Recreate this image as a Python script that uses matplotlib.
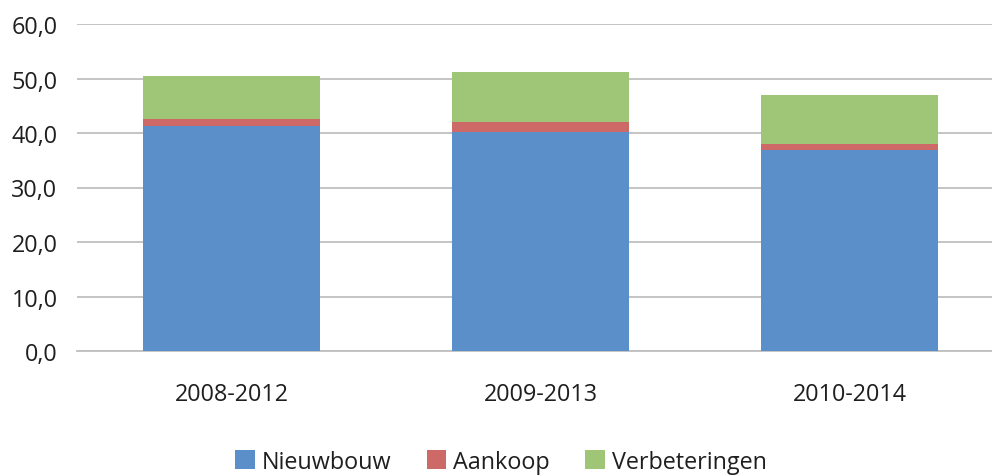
import matplotlib.pyplot as plt
import numpy as np

# data
periods = ['2008-2012', '2009-2013', '2010-2014']
nieuwbouw = [41.3, 40.2, 36.8]
aankoop = [1.3, 1.8, 1.2]
verbeteringen = [7.9, 9.2, 9.0]
yticks = [0, 10, 20, 30, 40, 50, 60]

colors = {'Nieuwbouw': '#5B8FCA', 'Aankoop': '#CD6966', 'Verbeteringen': '#9FC677'}
txt = '#1F1F1F'
grid = '#BFBFBF'

plt.rcParams['font.family'] = ['Open Sans', 'DejaVu Sans']

fig = plt.figure(figsize=(9.92, 4.77), dpi=100)
ax = fig.add_axes([77 / 992, 125 / 477, 927 / 992, 327 / 477])

x = np.arange(len(periods))
w = 0.573
bottom = np.zeros(len(periods))
for name, vals in [('Nieuwbouw', nieuwbouw), ('Aankoop', aankoop),
                   ('Verbeteringen', verbeteringen)]:
    ax.bar(x, vals, w, bottom=bottom, color=colors[name], label=name, zorder=3)
    bottom += np.array(vals)

ax.set_xlim(-0.5, len(periods) - 0.5)
ax.set_ylim(0, 60)
ax.set_yticks(yticks)
ax.set_yticklabels([f'{v:.1f}'.replace('.', ',') for v in yticks])
ax.set_xticks(x)
ax.set_xticklabels(periods)

ax.yaxis.grid(True, color=grid, linewidth=1.3, zorder=0)
for s in ['top', 'right', 'left']:
    ax.spines[s].set_visible(False)
ax.spines['bottom'].set_color(grid)
ax.spines['bottom'].set_linewidth(1.3)
ax.tick_params(axis='y', length=0, pad=14, labelsize=16.8, labelcolor=txt)
ax.tick_params(axis='x', length=0, pad=22, labelsize=16.8, labelcolor=txt)

fig.legend(loc='center', bbox_to_anchor=(0.505, 0.03), ncol=3, frameon=False,
           fontsize=16.8, handlelength=0.85, handleheight=0.85, handletextpad=0.3,
           columnspacing=1.5, labelcolor=txt, borderpad=0.2)

fig.savefig('out.png', dpi=100)
